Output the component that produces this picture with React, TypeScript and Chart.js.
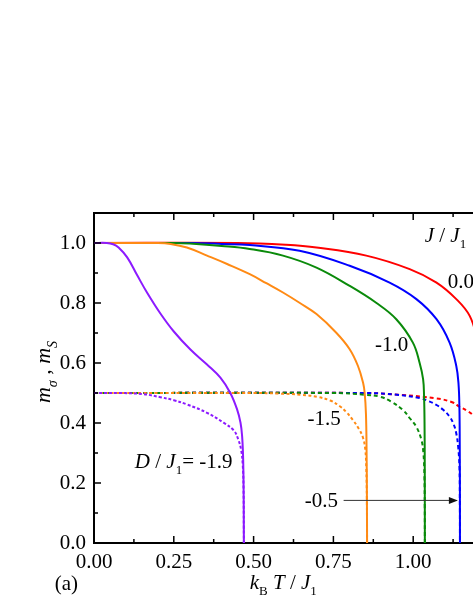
import React, { useEffect, useRef } from 'react';
import { Chart, registerables } from 'chart.js';
Chart.register(...registerables);

// Axis ticks
const xTicks = [0, 0.25, 0.5, 0.75, 1.0, 1.25];
const xMinorTicks = [0.125, 0.375, 0.625, 0.875, 1.125];
const yTicks = [0, 0.2, 0.4, 0.6, 0.8, 1.0];
const yMinorTicks = [0.1, 0.3, 0.5, 0.7, 0.9];

// D/J1 = -1.9 (purple)
const purpleSolidT = [0, 0.04, 0.06, 0.077, 0.104, 0.135, 0.166, 0.208, 0.25, 0.302, 0.354, 0.396, 0.427, 0.448, 0.459, 0.464, 0.467, 0.4685, 0.4692, 0.4695];
const purpleSolidM = [1.0, 1.0, 0.996, 0.985, 0.952, 0.893, 0.835, 0.765, 0.705, 0.645, 0.595, 0.551, 0.50, 0.446, 0.401, 0.356, 0.29, 0.2, 0.1, 0];
const purpleDashT = [0, 0.08, 0.156, 0.208, 0.25, 0.291, 0.354, 0.406, 0.438, 0.452, 0.461, 0.466, 0.4685, 0.4695];
const purpleDashM = [0.5, 0.5, 0.496, 0.486, 0.476, 0.462, 0.434, 0.401, 0.375, 0.345, 0.31, 0.26, 0.18, 0];

// D/J1 = -1.5 (orange)
const orangeSolidT = [0, 0.2, 0.24, 0.291, 0.354, 0.417, 0.488, 0.54, 0.592, 0.645, 0.697, 0.759, 0.801, 0.827, 0.843, 0.848, 0.852, 0.854, 0.855, 0.8555];
const orangeSolidM = [1.0, 1.0, 0.997, 0.985, 0.958, 0.93, 0.896, 0.866, 0.835, 0.8, 0.763, 0.701, 0.646, 0.59, 0.534, 0.5, 0.43, 0.3, 0.15, 0];
const orangeDashT = [0, 0.5, 0.58, 0.65, 0.7, 0.74, 0.77, 0.79, 0.811, 0.83, 0.843, 0.85, 0.853, 0.8548, 0.8555];
const orangeDashM = [0.5, 0.5, 0.498, 0.494, 0.487, 0.475, 0.456, 0.437, 0.41, 0.38, 0.35, 0.31, 0.25, 0.15, 0];

// D/J1 = -1.0 (green)
const greenSolidT = [0, 0.25, 0.3, 0.4, 0.488, 0.592, 0.697, 0.801, 0.885, 0.947, 0.999, 1.02, 1.031, 1.034, 1.0355, 1.0362, 1.0365];
const greenSolidM = [1.0, 1.0, 0.998, 0.99, 0.98, 0.958, 0.918, 0.857, 0.80, 0.746, 0.668, 0.601, 0.546, 0.49, 0.4, 0.25, 0];
const greenDashT = [0, 0.75, 0.85, 0.895, 0.93, 0.968, 0.99, 1.01, 1.026, 1.032, 1.035, 1.0362, 1.0365];
const greenDashM = [0.5, 0.5, 0.494, 0.488, 0.472, 0.443, 0.415, 0.387, 0.343, 0.3, 0.23, 0.12, 0];

// D/J1 = -0.5 (blue)
const blueSolidT = [0, 0.3, 0.4, 0.488, 0.644, 0.801, 0.926, 1.01, 1.073, 1.114, 1.135, 1.142, 1.1448, 1.1458, 1.1463, 1.1465];
const blueSolidM = [1.0, 1.0, 0.997, 0.993, 0.974, 0.924, 0.868, 0.813, 0.746, 0.668, 0.59, 0.53, 0.45, 0.33, 0.18, 0];
const blueDashT = [0, 0.85, 0.95, 1.02, 1.05, 1.073, 1.095, 1.114, 1.127, 1.135, 1.141, 1.145, 1.1462, 1.1465];
const blueDashM = [0.5, 0.5, 0.494, 0.483, 0.472, 0.46, 0.443, 0.421, 0.395, 0.365, 0.32, 0.25, 0.12, 0];

// D/J1 = 0.0 (red)
const redSolidT = [0, 0.45, 0.6, 0.697, 0.853, 0.989, 1.073, 1.135, 1.177, 1.2, 1.212, 1.218, 1.222, 1.2235, 1.224];
const redSolidM = [1.0, 1.0, 0.994, 0.985, 0.958, 0.913, 0.868, 0.813, 0.757, 0.68, 0.6, 0.52, 0.4, 0.2, 0];
const redDashT = [0, 0.85, 0.968, 1.073, 1.12, 1.146, 1.17, 1.187, 1.2, 1.21, 1.217, 1.222, 1.2235, 1.224];
const redDashM = [0.5, 0.5, 0.493, 0.482, 0.47, 0.454, 0.44, 0.426, 0.405, 0.37, 0.3, 0.2, 0.1, 0];

const PURPLE = '#8c1aff';
const ORANGE = '#ff8a14';
const GREEN = '#0a8a0a';
const BLUE = '#0000ff';
const RED = '#ff0000';

const FONT = "'Liberation Serif', 'Times New Roman', serif";
const FS = 21;

type Seg = { t: string; it?: boolean; sub?: boolean };

function segFont(s: Seg, size: number) {
  const sz = s.sub ? Math.round(size * 0.62) : size;
  return `${s.it ? 'italic ' : ''}${sz}px ${FONT}`;
}
function richWidth(ctx: CanvasRenderingContext2D, segs: Seg[], size: number) {
  let w = 0;
  for (const s of segs) { ctx.font = segFont(s, size); w += ctx.measureText(s.t).width; }
  return w;
}
function drawRich(ctx: CanvasRenderingContext2D, x: number, y: number, segs: Seg[], size: number) {
  let cx = x;
  ctx.textBaseline = 'alphabetic';
  ctx.textAlign = 'left';
  for (const s of segs) {
    ctx.font = segFont(s, size);
    ctx.fillText(s.t, cx, y + (s.sub ? size * 0.3 : 0));
    cx += ctx.measureText(s.t).width;
  }
}

function line(data: number[], t: number[], color: string, dashed: boolean, dash?: number[]) {
  return {
    data: t.map((v, i) => ({ x: v, y: data[i] })),
    borderColor: color,
    backgroundColor: color,
    borderWidth: 2,
    borderDash: dashed ? (dash || [4, 3]) : [],
    showLine: true,
    pointRadius: 0,
    tension: 0.4,
    fill: false,
  };
}

const annotatePlugin = {
  id: 'annotate',
  afterDraw(chart: any) {
    const ctx: CanvasRenderingContext2D = chart.ctx;
    const xs = chart.scales.x, ys = chart.scales.y;
    const ca = chart.chartArea;
    const px = (v: number) => xs.getPixelForValue(v);
    const py = (v: number) => ys.getPixelForValue(v);
    ctx.save();
    // frame top & right
    ctx.strokeStyle = '#000';
    ctx.lineWidth = 2;
    ctx.beginPath();
    ctx.moveTo(ca.left, ca.top); ctx.lineTo(ca.right, ca.top); ctx.lineTo(ca.right, ca.bottom);
    ctx.stroke();
    // inward ticks
    ctx.lineWidth = 1.5;
    ctx.beginPath();
    for (const v of xTicks) {
      const x = px(v);
      ctx.moveTo(x, ca.bottom); ctx.lineTo(x, ca.bottom - 7);
      ctx.moveTo(x, ca.top); ctx.lineTo(x, ca.top + 7);
    }
    for (const v of xMinorTicks) {
      const x = px(v);
      ctx.moveTo(x, ca.bottom); ctx.lineTo(x, ca.bottom - 4);
      ctx.moveTo(x, ca.top); ctx.lineTo(x, ca.top + 4);
    }
    for (const v of yTicks) {
      const y = py(v);
      ctx.moveTo(ca.left, y); ctx.lineTo(ca.left + 7, y);
      ctx.moveTo(ca.right, y); ctx.lineTo(ca.right - 7, y);
    }
    for (const v of yMinorTicks) {
      const y = py(v);
      ctx.moveTo(ca.left, y); ctx.lineTo(ca.left + 4, y);
      ctx.moveTo(ca.right, y); ctx.lineTo(ca.right - 4, y);
    }
    ctx.stroke();

    ctx.fillStyle = '#000';
    // labels in plot
    drawRich(ctx, px(1.036), py(1.004), [{ t: 'J', it: true }, { t: ' / ' }, { t: 'J', it: true }, { t: '1', sub: true }], FS);
    drawRich(ctx, px(1.108), py(0.85), [{ t: '0.0' }], FS);
    drawRich(ctx, px(0.88), py(0.639), [{ t: '-1.0' }], FS);
    drawRich(ctx, px(0.669), py(0.393), [{ t: '-1.5' }], FS);
    drawRich(ctx, px(0.66), py(0.12), [{ t: '-0.5' }], FS);
    drawRich(ctx, px(0.128), py(0.25), [{ t: 'D', it: true }, { t: ' / ' }, { t: 'J', it: true }, { t: '1', sub: true }, { t: '= -1.9' }], FS);
    drawRich(ctx, px(-0.123), py(-0.158), [{ t: '(a)' }], FS);

    // arrow
    const ay = py(0.142);
    const ax0 = px(0.782), ax1 = px(1.14);
    ctx.strokeStyle = '#333';
    ctx.lineWidth = 1;
    ctx.beginPath(); ctx.moveTo(ax0, ay); ctx.lineTo(ax1 - 6, ay); ctx.stroke();
    ctx.fillStyle = '#111';
    ctx.beginPath(); ctx.moveTo(ax1, ay); ctx.lineTo(ax1 - 9, ay - 3.5); ctx.lineTo(ax1 - 9, ay + 3.5); ctx.closePath(); ctx.fill();

    // x-axis title
    ctx.fillStyle = '#000';
    const xt: Seg[] = [{ t: 'k', it: true }, { t: 'B', sub: true }, { t: ' T', it: true }, { t: ' / ' }, { t: 'J', it: true }, { t: '1', sub: true }];
    drawRich(ctx, px(0.488), ca.bottom + 46, xt, FS);

    // y-axis title (rotated)
    const yt: Seg[] = [{ t: 'm', it: true }, { t: 'σ', it: true, sub: true }, { t: ' , ' }, { t: 'm', it: true }, { t: 'S', it: true, sub: true }];
    const w = richWidth(ctx, yt, FS + 1);
    ctx.translate(ca.left - 44, (ca.top + ca.bottom) / 2 - 6);
    ctx.rotate(-Math.PI / 2);
    drawRich(ctx, -w / 2, 0, yt, FS + 1);
    ctx.restore();
  },
};

export default function App() {
  const ref = useRef<HTMLCanvasElement | null>(null);
  useEffect(() => {
    if (!ref.current) return;
    const chart = new Chart(ref.current, {
      type: 'scatter',
      data: {
        datasets: [
          line(purpleSolidM, purpleSolidT, PURPLE, false),
          line(orangeSolidM, orangeSolidT, ORANGE, false),
          line(greenSolidM, greenSolidT, GREEN, false),
          line(blueSolidM, blueSolidT, BLUE, false),
          line(redSolidM, redSolidT, RED, false),
          line(purpleDashM, purpleDashT, PURPLE, true, [3, 2]),
          line(orangeDashM, orangeDashT, ORANGE, true, [3, 2.5]),
          line(greenDashM, greenDashT, GREEN, true),
          line(blueDashM, blueDashT, BLUE, true),
          line(redDashM, redDashT, RED, true),
        ] as any,
      },
      options: {
        animation: false,
        responsive: false,
        maintainAspectRatio: false,
        layout: { padding: { top: 205, right: 35, left: 0, bottom: 0 } },
        plugins: { legend: { display: false }, tooltip: { enabled: false } },
        scales: {
          x: {
            type: 'linear',
            min: 0,
            max: 1.25,
            afterBuildTicks: (s: any) => { s.ticks = xTicks.map((v) => ({ value: v })); },
            afterFit: (s: any) => { s.height = 62; },
            grid: { display: false, drawTicks: false },
            border: { display: true, color: '#000', width: 2 },
            ticks: {
              color: '#000',
              font: { family: FONT, size: FS },
              padding: 7,
              maxRotation: 0,
              autoSkip: false,
              callback: (v: any) => Number(v).toFixed(2),
            },
          },
          y: {
            type: 'linear',
            min: 0,
            max: 1.1,
            afterBuildTicks: (s: any) => { s.ticks = yTicks.map((v) => ({ value: v })); },
            afterFit: (s: any) => { s.width = 86; },
            grid: { display: false, drawTicks: false },
            border: { display: true, color: '#000', width: 2 },
            ticks: {
              color: '#000',
              font: { family: FONT, size: FS },
              padding: 8,
              autoSkip: false,
              callback: (v: any) => Number(v).toFixed(1),
            },
          },
        },
      } as any,
      plugins: [annotatePlugin],
    });
    return () => chart.destroy();
  }, []);
  return (
    <div style={{ position: 'fixed', left: 0, top: 0, width: 473, height: 613, overflow: 'hidden', background: '#fff' }}>
      <canvas
        ref={ref}
        width={520}
        height={597}
        style={{ position: 'absolute', left: 8, top: 8, width: 520, height: 597, display: 'block' }}
      />
    </div>
  );
}
